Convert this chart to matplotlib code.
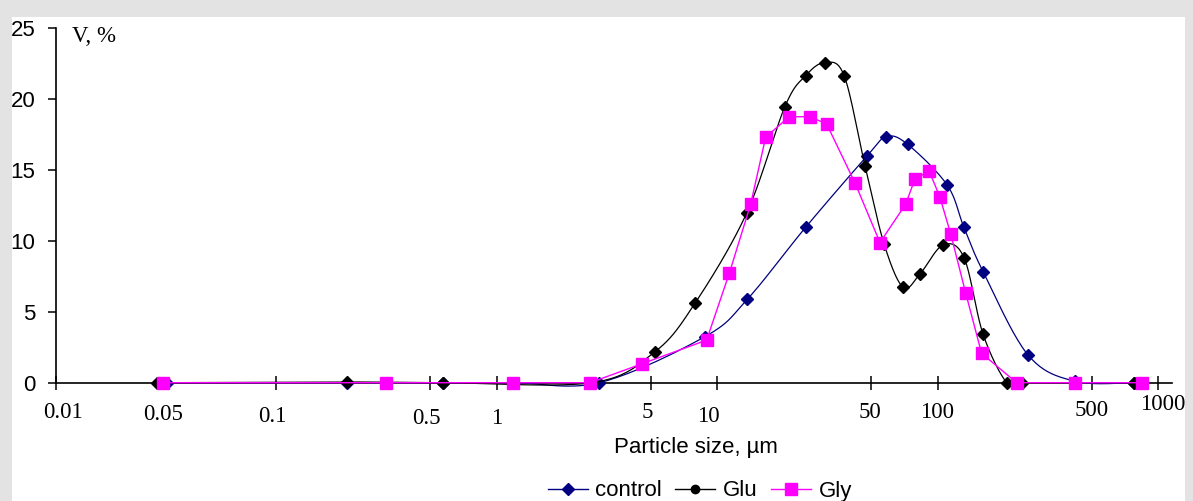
import numpy as np
import matplotlib
matplotlib.use("Agg")
import matplotlib.pyplot as plt
from matplotlib.patches import Rectangle
from matplotlib.lines import Line2D
from matplotlib.ticker import NullLocator
from matplotlib.transforms import blended_transform_factory

# datos (tamano de particula en um, V en %)
control_x = [0.0318, 0.21, 0.57, 1.19, 2.92, 8.8, 13.7, 25.2, 47.7, 58.6, 73.1,
             110.6, 131.8, 161, 257.6, 421, 778]
control_y = [0, 0, 0, 0, 0, 3.24, 5.87, 10.94, 15.94, 17.32, 16.79,
             13.92, 10.94, 7.82, 1.95, 0.1, 0]

glu_x = [0.0287, 0.21, 0.57, 2.70, 5.22, 7.93, 13.6, 20.3, 25.2, 30.8, 37.7,
         46.9, 57.3, 69.8, 83.2, 106, 132, 161, 206, 243, 778]
glu_y = [0, 0.05, 0, 0, 2.18, 5.59, 11.93, 19.44, 21.62, 22.54, 21.62,
         15.26, 9.74, 6.72, 7.65, 9.70, 8.80, 3.41, 0, 0, 0]

gly_x = [0.0305, 0.313, 1.19, 2.65, 4.54, 8.96, 11.35, 14.2, 16.6, 21.2, 26.4,
         31.4, 42.3, 54.8, 71.6, 78.9, 91.6, 102.4, 114.9, 134.3, 158.5,
         228.5, 421, 843]
gly_y = [0, 0, 0, 0, 1.32, 3.0, 7.70, 12.58, 17.28, 18.73, 18.73,
         18.22, 14.04, 9.87, 12.56, 14.32, 14.91, 13.1, 10.45, 6.30, 2.07,
         0, 0, 0]

ticks_x = [0.01, 0.1, 0.5, 1, 5, 10, 50, 100, 500, 1000]
etiquetas_x = ["0.01", "0.05", "0.1", "0.5", "1", "5", "10", "50", "100", "500", "1000"]
# posicion de cada etiqueta (x en datos, y en pixeles de la imagen)
etiq_pos_x = [0.01076, 0.0306, 0.0955, 0.477, 1.0, 4.8, 9.08, 49.3, 100, 500, 1055]
etiq_pos_py = [412.5, 414, 416.5, 418.5, 418.5, 412, 416.5, 413, 412, 410, 405]

W, H = 1193, 501


def suavizar(xs, ys, n=24):
    # curva tipo Excel: Bezier cubica con puntos de control de los vecinos (espacio log-x)
    P = np.column_stack([np.log10(xs), np.array(ys, float)])
    Pe = np.vstack([P[0], P, P[-1]])
    t = np.linspace(0, 1, n)[1:, None]
    out = [P[0]]
    for i in range(len(P) - 1):
        p0, p1, p2, p3 = Pe[i], Pe[i + 1], Pe[i + 2], Pe[i + 3]
        b1 = p1 + (p2 - p0) / 6
        b2 = p2 - (p3 - p1) / 6
        seg = (1 - t) ** 3 * p1 + 3 * (1 - t) ** 2 * t * b1 + 3 * (1 - t) * t ** 2 * b2 + t ** 3 * p2
        out.extend(seg)
    out = np.array(out)
    return 10 ** out[:, 0], out[:, 1]


fig = plt.figure(figsize=(W / 100, H / 100), dpi=100, facecolor="#e3e3e3")
fig.patches.append(Rectangle((12 / W, 0), (1185 - 12) / W, (H - 17) / H,
                             transform=fig.transFigure, facecolor="white",
                             edgecolor="none", zorder=-5))

ax = fig.add_axes([56 / W, (H - 382.7) / H, (1172 - 56) / W, 355 / H])
ax.set_facecolor("none")
ax.set_xscale("log")
ax.set_xlim(0.01, 10 ** 3.064)
ax.set_ylim(0, 25)

azul = "#000080"
rosa = "#ff00ff"

sx, sy = suavizar(control_x, control_y)
ax.plot(sx, sy, color=azul, lw=0.9, clip_on=False, zorder=3)
ax.plot(control_x, control_y, ls="none", marker="D", ms=6.3, color=azul, clip_on=False, zorder=3)

sx, sy = suavizar(glu_x, glu_y)
ax.plot(sx, sy, color="black", lw=0.9, clip_on=False, zorder=4)
ax.plot(glu_x, glu_y, ls="none", marker="D", ms=6.3, color="black", clip_on=False, zorder=4)

ax.plot(gly_x, gly_y, color=rosa, lw=1.0, marker="s", ms=8, clip_on=False, zorder=5)

for s in ["top", "right"]:
    ax.spines[s].set_visible(False)
for s in ["left", "bottom"]:
    ax.spines[s].set_linewidth(1.2)

ax.set_xticks(ticks_x)
ax.xaxis.set_minor_locator(NullLocator())
ax.tick_params(axis="x", direction="inout", length=10, width=1.1, labelbottom=False)
ax.set_yticks([0, 5, 10, 15, 20, 25])
ax.tick_params(axis="y", direction="out", length=6, width=1.1, pad=9, labelsize=16)
for lab in ax.get_yticklabels():
    lab.set_fontfamily("Liberation Sans")

trans = blended_transform_factory(ax.transData, ax.transAxes)
for txt, xp, pyy in zip(etiquetas_x, etiq_pos_x, etiq_pos_py):
    ax.text(xp, (382.7 - pyy) / 355, txt, transform=trans, ha="center", va="center",
            fontsize=16.5, family="Liberation Serif")

fig.text(72 / W, (H - 36) / H, "V, %", ha="left", va="center",
         fontsize=16.5, family="Liberation Serif")
fig.text(696 / W, (H - 447) / H, "Particle size, µm", ha="center", va="center",
         fontsize=16, family="Liberation Sans")

handles = [
    Line2D([], [], color=azul, lw=1.0, marker="D", ms=6.3),
    Line2D([], [], color="black", lw=1.0, marker="o", ms=6),
    Line2D([], [], color=rosa, lw=1.0, marker="s", ms=8),
]
fig.legend(handles, ["control", "Glu", "Gly"], loc="center", bbox_to_anchor=(700 / W, (H - 491) / H),
           ncol=3, frameon=False, handlelength=1.8, handletextpad=0.35, columnspacing=0.6,
           prop={"family": "Liberation Sans", "size": 16}, borderpad=0)

fig.savefig("out.png", dpi=100, facecolor=fig.get_facecolor())
